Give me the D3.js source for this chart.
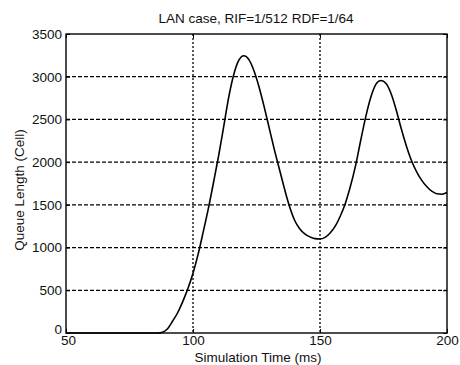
<!DOCTYPE html>
<html>
<head>
<meta charset="utf-8">
<script src="https://cdn.jsdelivr.net/npm/d3@7"></script>
<style>
    body { margin: 0; background: #fff; }
    text { font-family: "Liberation Sans", Arial, sans-serif; fill: #111; }
</style>
</head>
<body>
<svg id="chart" width="460" height="365"></svg>
<script>
const chartTitle = "LAN case, RIF=1/512 RDF=1/64";
const xLabel = "Simulation Time (ms)";
const yLabel = "Queue Length (Cell)";
const xTicks = [50, 100, 150, 200];
const yTicks = [0, 500, 1000, 1500, 2000, 2500, 3000, 3500];

// time (ms) and queue length
const times = [50, 60, 70, 80, 86, 88, 90, 92, 94, 96, 98, 100, 102, 104, 106, 108, 110,
    112, 114, 116, 118, 120, 122, 124, 126, 128, 130, 132, 134, 136, 138, 140, 142, 144,
    146, 148, 150, 152, 154, 156, 158, 160, 162, 164, 166, 168, 170, 172, 174, 176, 178,
    180, 182, 184, 186, 188, 190, 192, 194, 196, 198, 200];
const queue = [0, 0, 0, 0, 0, 10, 50, 140, 240, 370, 520, 700, 920, 1180, 1450, 1750, 2060,
    2400, 2750, 3020, 3190, 3245, 3200, 3070, 2880, 2650, 2400, 2150, 1920, 1690, 1480, 1320,
    1220, 1160, 1125, 1105, 1100, 1120, 1170, 1250, 1370, 1520, 1720, 1960, 2250, 2530, 2760,
    2910, 2955, 2920, 2800, 2610, 2390, 2190, 2020, 1890, 1790, 1715, 1660, 1630, 1625, 1645];

function drawChart() {
    const svg = d3.select("#chart");
    const left = 66, right = 447, top = 34, bottom = 333;
    const fontSize = "13.5px";

    const x = d3.scaleLinear().domain([50, 200]).range([left, right]);
    const y = d3.scaleLinear().domain([0, 3500]).range([bottom, top]);

    const g = svg.append("g");

    // grid lines
    g.selectAll(".vgrid")
        .data(xTicks.slice(1, -1))
        .enter()
        .append("line")
        .attr("x1", (d) => x(d)).attr("x2", (d) => x(d))
        .attr("y1", top).attr("y2", bottom)
        .attr("stroke", "#000")
        .attr("stroke-width", 1.3)
        .attr("stroke-dasharray", "2,2");

    g.selectAll(".hgrid")
        .data(yTicks.slice(1, -1))
        .enter()
        .append("line")
        .attr("x1", left).attr("x2", right)
        .attr("y1", (d) => y(d)).attr("y2", (d) => y(d))
        .attr("stroke", "#000")
        .attr("stroke-width", 1.3)
        .attr("stroke-dasharray", "4,2");

    // axes, ticks pointing inward like matlab
    const fmt = d3.format("d");
    g.append("g")
        .attr("class", "xaxis")
        .attr("transform", `translate(0,${bottom})`)
        .call(d3.axisBottom(x).tickValues(xTicks).tickSize(-4).tickPadding(2).tickFormat(fmt))
        .call((a) => a.select(".domain").remove());
    g.append("g")
        .attr("transform", `translate(0,${top})`)
        .call(d3.axisTop(x).tickValues(xTicks).tickSize(-4).tickFormat(""))
        .call((a) => a.select(".domain").remove());
    g.append("g")
        .attr("class", "yaxis")
        .attr("transform", `translate(${left},0)`)
        .call(d3.axisLeft(y).tickValues(yTicks).tickSize(-4).tickPadding(4).tickFormat(fmt))
        .call((a) => a.select(".domain").remove());
    g.append("g")
        .attr("transform", `translate(${right},0)`)
        .call(d3.axisRight(y).tickValues(yTicks).tickSize(-4).tickFormat(""))
        .call((a) => a.select(".domain").remove());

    svg.selectAll(".tick text")
        .style("font-size", fontSize)
        .style("font-family", "Liberation Sans, Arial, sans-serif")
        .style("fill", "#111");
    svg.selectAll(".tick line").attr("stroke", "#000");

    // the 0 and 50 labels overlap a bit in the original
    svg.selectAll(".yaxis .tick text").filter((d) => d === 0).attr("dy", "0.05em");
    svg.selectAll(".xaxis .tick text").filter((d) => d === 50).attr("dx", "0.15em");

    // frame
    g.append("rect")
        .attr("x", left).attr("y", top)
        .attr("width", right - left).attr("height", bottom - top)
        .attr("fill", "none")
        .attr("stroke", "#000")
        .attr("stroke-width", 1.4);

    // curve
    const line = d3.line()
        .x((d, i) => x(times[i]))
        .y((d) => y(d))
        .curve(d3.curveMonotoneX);

    g.append("path")
        .datum(queue)
        .attr("d", line)
        .attr("fill", "none")
        .attr("stroke", "#000")
        .attr("stroke-width", 1.6);

    // labels
    svg.append("text")
        .attr("x", 256).attr("y", 23)
        .attr("text-anchor", "middle")
        .style("font-size", fontSize)
        .text(chartTitle);

    svg.append("text")
        .attr("x", 258).attr("y", 362)
        .attr("text-anchor", "middle")
        .style("font-size", fontSize)
        .text(xLabel);

    svg.append("text")
        .attr("transform", "translate(24,190) rotate(-90)")
        .attr("text-anchor", "middle")
        .style("font-size", fontSize)
        .text(yLabel);
}

drawChart();
</script>
</body>
</html>
